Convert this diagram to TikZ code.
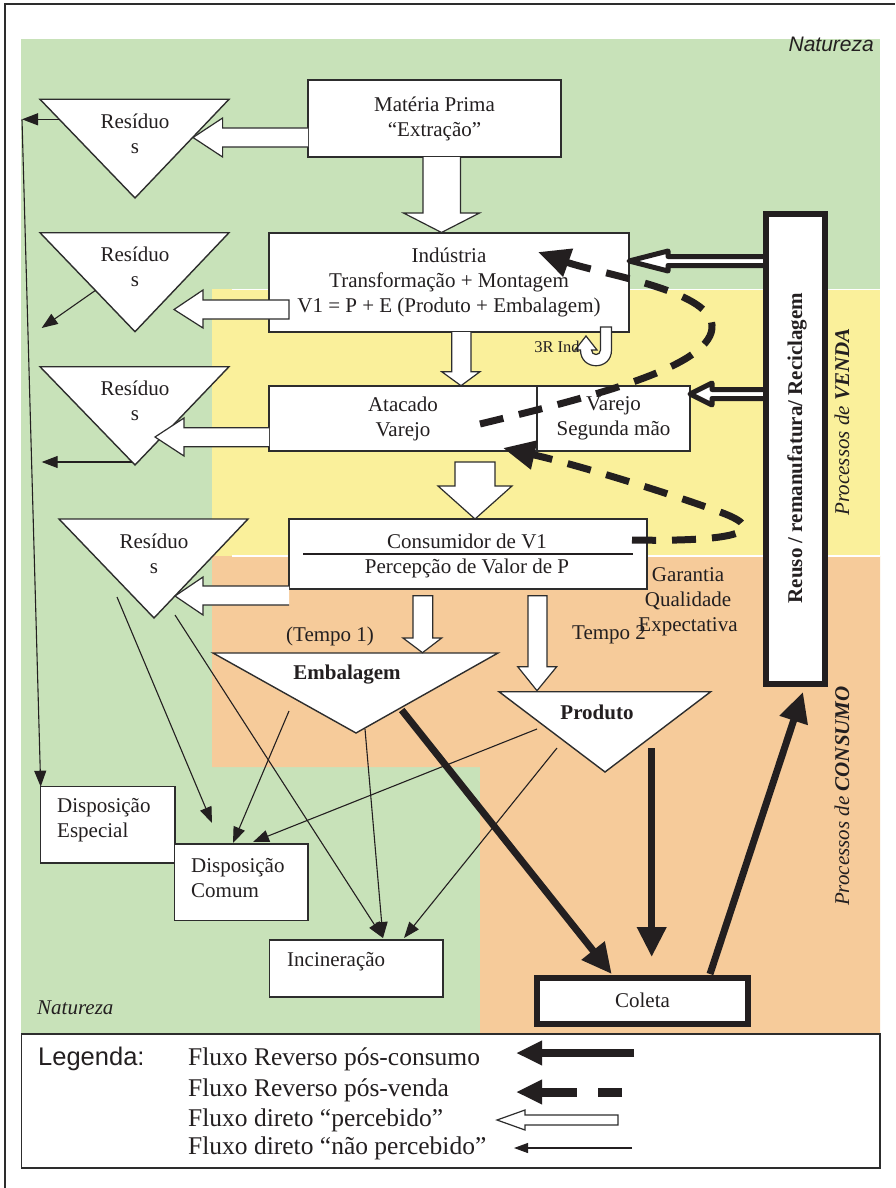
\documentclass[tikz,border=0pt]{standalone}
\usepackage{fontspec}
\setmainfont{Liberation Serif}
\newfontfamily\sansarial{Liberation Sans}
\usetikzlibrary{arrows.meta}
\definecolor{natgreen}{RGB}{200,226,185}
\definecolor{vendyellow}{RGB}{250,240,155}
\definecolor{consorange}{RGB}{246,203,154}
\definecolor{ink}{RGB}{35,31,32}
\definecolor{edgegray}{RGB}{45,45,45}
\newcommand\mainsz{\fontsize{21}{25}\selectfont}
\newcommand\legsz{\fontsize{25.5}{30}\selectfont}
\begin{document}
\begin{tikzpicture}[x=1pt,y=-1pt,
  every node/.style={text=ink},
  T/.style={font=\mainsz, inner sep=0pt, align=center},
  boxn/.style={draw=edgegray, line width=1.4pt, fill=white, inner sep=0pt, outer sep=0pt, font=\mainsz, align=center},
  heavybox/.style={draw=ink, line width=6pt, fill=white, inner sep=0pt, outer sep=0pt, font=\mainsz},
  tri/.style={draw=edgegray, line width=1.4pt, fill=white, line join=miter},
  blockarr/.style={draw=edgegray, line width=1.2pt, fill=white, line join=miter},
  thinarr/.style={draw=ink, line width=1.1pt, -{Triangle[length=16pt,width=12pt]}},
  thickarr/.style={draw=ink, line width=7pt, -{Triangle[length=30pt,width=28pt]}},
  dasharr/.style={draw=ink, line width=7pt, dash pattern=on 24pt off 16pt, -{Triangle[length=32pt,width=28pt]}},
  reusearr/.style={draw=ink, line width=5pt, fill=white, line join=round},
]
\useasboundingbox (0,0) rectangle (895,1188);
% backgrounds
\fill[white] (0,0) rectangle (895,1188);
\fill[natgreen] (21,39) rectangle (880,1033);
\fill[vendyellow] (212,289) rectangle (880,556);
\fill[consorange] (212,556) -- (880,556) -- (880,1033) -- (480,1033) -- (480,767) -- (212,767) -- cycle;
\draw[white, line width=1.2pt] (232,289.5) -- (880,289.5) (232,556) -- (880,556);
\draw[edgegray, line width=2pt] (5,1188) -- (5,4) -- (895,4);

\node[anchor=east, inner sep=0pt, font=\sansarial\itshape\mainsz] (natTop) at (874,44) {Natureza};
\node[anchor=west, inner sep=0pt, font=\itshape\mainsz] (natBot) at (37,1008) {Natureza};

% free ends of thin connectors
\coordinate (t1a) at (59.5,119.3);
\coordinate (corner) at (22,119.3);
\coordinate (t2a) at (96,290);   \coordinate (t2b) at (41.7,328);
\coordinate (t3a) at (131.7,462); \coordinate (t3b) at (41.7,462);
\coordinate (t4a) at (117,597);  \coordinate (t4b) at (212,823);
\coordinate (t4c) at (175,615);
\coordinate (incA) at (383,938); \coordinate (incB) at (404,938);
\coordinate (emA) at (289,711);  \coordinate (comA) at (233,843);
\coordinate (emB) at (365,729);
\coordinate (prA) at (537,729);  \coordinate (comB) at (253,842);
\coordinate (prB) at (557,748);

% boxes
\node[boxn, minimum width=253pt, minimum height=77pt] (mp) at (434.5,118.5) {Matéria Prima\\“Extração”};
\node[boxn, minimum width=360pt, minimum height=99pt] (ind) at (449,282.5) {Indústria\\Transformação + Montagem\\V1 = P + E (Produto + Embalagem)};
\node[boxn, minimum width=268pt, minimum height=65pt] (atac) at (403,418.5) {Atacado\\Varejo};
\node[boxn, minimum width=153pt, minimum height=65pt] (varejo) at (613.5,418.5) {Varejo\\Segunda mão};
\node[boxn, minimum width=358pt, minimum height=70pt] (cons) at (468,554) {};
\node[T] (consT1) at (467,541) {Consumidor de V1};
\node[T] (consT2) at (467,568) {Percepção de Valor de P};
\draw[ink, line width=1.5pt] (303,554) -- (633,554);

% triangles
\draw[tri] (40,99.3) -- (229,99.3) -- (135,198) -- cycle;
\node[T] (res1) at (135,133.5) {Resíduo\\s};
\draw[tri] (40,232.7) -- (229,232.7) -- (135,331.7) -- cycle;
\node[T] (res2) at (135,266.5) {Resíduo\\s};
\draw[tri] (40,366.7) -- (229,366.7) -- (135,465) -- cycle;
\node[T] (res3) at (135,400.5) {Resíduo\\s};
\draw[tri] (59,519) -- (248,519) -- (154,618) -- cycle;
\node[T] (res4) at (154,553.5) {Resíduo\\s};
\draw[tri] (213,653) -- (498,653) -- (356,733) -- cycle;
\node[T, font=\bfseries\mainsz] (emb) at (347,675) {Embalagem};
\draw[tri] (499,691.7) -- (710.7,691.7) -- (605,772) -- cycle;
\node[T, font=\bfseries\mainsz] (prod) at (597,712.7) {Produto};

% lower boxes
\node[boxn, minimum width=134.3pt, minimum height=76.3pt] (disEsp) at (107.85,824.85) {};
\node[T, anchor=west, align=left] (disEspT) at (57,820) {Disposição\\Especial};
\node[boxn, minimum width=133.7pt, minimum height=76.7pt] (disCom) at (241.15,882.35) {};
\node[T, anchor=west, align=left] (disComT) at (191,878) {Disposição\\Comum};
\node[boxn, minimum width=173.7pt, minimum height=57pt] (incin) at (356.15,968.5) {};
\node[T, anchor=west] (incinT) at (287,962) {Incineração};

% thin connectors
\draw[thinarr] (t1a) -- (corner);
\draw[thinarr] (corner) -- (disEsp.north west);
\draw[thinarr] (t2a) -- (t2b);
\draw[thinarr] (t3a) -- (t3b);
\draw[thinarr] (t4a) -- (t4b);
\draw[thinarr] (t4c) -- (incA);
\draw[thinarr] (emA) -- (comA);
\draw[thinarr] (emB) -- (incA);
\draw[thinarr] (prA) -- (comB);
\draw[thinarr] (prB) -- (incB);

% block arrows (direct perceived flow)
\draw[blockarr] (423,157) -- (423,213) -- (403.5,213) -- (441.5,232.5) -- (479.5,213) -- (460.5,213) -- (460.5,157);
\draw[blockarr] (451.7,332) -- (451.7,371.7) -- (441.7,371.7) -- (461,385.7) -- (480,371.7) -- (471,371.7) -- (471,332);
\draw[blockarr] (455,462) -- (455,486) -- (438,486) -- (475,519) -- (512,486) -- (495,486) -- (495,462) -- cycle;
\draw[blockarr] (413,595.7) -- (413,638) -- (403,638) -- (422.5,652.7) -- (441.7,638) -- (432.7,638) -- (432.7,595.7) -- cycle;
\draw[blockarr] (528,595.7) -- (528,666.7) -- (517.7,666.7) -- (537,690.7) -- (556.7,666.7) -- (547,666.7) -- (547,595.7) -- cycle;
\draw[blockarr] (308,128) -- (222.6,128) -- (222.6,118) -- (193,137.5) -- (222.6,157) -- (222.6,147) -- (308,147);
\draw[blockarr] (289,300) -- (203,300) -- (203,290) -- (174,309.5) -- (203,328) -- (203,319) -- (289,319) -- cycle;
\draw[blockarr] (269,427.7) -- (184,427.7) -- (184,418) -- (155,437) -- (184,456) -- (184,446.7) -- (269,446.7);
\draw[blockarr] (289,586) -- (203,586) -- (203,577) -- (175,596) -- (203,615) -- (203,605) -- (289,605);

% 3R Ind curl
\draw[blockarr] (600.5,327) -- (600.5,350) .. controls (600.5,356) and (591.5,356) .. (591.5,350) -- (597,350) -- (586,336) -- (575,350) -- (580.5,350) .. controls (580.5,371) and (611.5,371) .. (611.5,350) -- (611.5,327) -- cycle;
\node[T, font=\fontsize{16.5}{19}\selectfont] (r3) at (557,347) {3R Ind};

% labels
\node[T] (tempo1) at (330,636) {(Tempo 1)};
\node[T] (tempo2) at (609,635) {Tempo 2};
\node[T] (gqe) at (688,602) {Garantia\\Qualidade\\Expectativa};

% reuse arrows
\draw[reusearr] (766,256.5) -- (668,256.5) -- (668,251) -- (629,261) -- (668,271) -- (668,265.5) -- (766,265.5);
\draw[reusearr] (766,389.5) -- (712,389.5) -- (712,383) -- (690,394) -- (712,405) -- (712,398.5) -- (766,398.5);

% reuse box
\node[heavybox, minimum width=58.5pt, minimum height=470pt] (reuso) at (795.25,448.5) {};
\node[T, rotate=90, font=\bfseries\mainsz] (reusoT) at (797,448) {Reuso / remanufatura/ Reciclagem};
\node[T, rotate=90, font=\itshape\mainsz] (vendaT) at (842,422) {Processos de \textbf{VENDA}};
\node[T, rotate=90, font=\itshape\mainsz] (consumoT) at (842,796) {Processos de \textbf{CONSUMO}};

% dashed post-sale reverse flows
\draw[dasharr] (632,540) .. controls (730,542) and (775,532) .. (720,512) .. controls (660,490) and (570,463) .. (503,448);
\draw[dasharr] (480,424) .. controls (600,395) and (715,365) .. (712,325) .. controls (709,290) and (600,274) .. (538,252);

% thick post-consumption flows
\coordinate (embC) at (401.7,710);
\coordinate (colA) at (611.7,974);
\coordinate (prC) at (651.7,748);
\coordinate (colB) at (651.7,957);
\coordinate (colC) at (710,974);
\coordinate (reuB) at (803,692);
\draw[thickarr] (embC) -- (colA);
\draw[thickarr] (prC) -- (colB);
\draw[thickarr] (colC) -- (reuB);
\node[heavybox, minimum width=211pt, minimum height=46.5pt] (coleta) at (642.5,1000.75) {Coleta};

% legend
\node[draw=edgegray, line width=1.5pt, fill=white, minimum width=858.3pt, minimum height=134pt, inner sep=0pt] (legbox) at (450.85,1101) {};
\node[anchor=west, inner sep=0pt, font=\sansarial\legsz] (leg) at (38,1059) {Legenda:};
\node[anchor=west, inner sep=0pt, font=\legsz] (l1) at (188,1059) {Fluxo Reverso pós-consumo};
\node[anchor=west, inner sep=0pt, font=\legsz] (l2) at (188,1090) {Fluxo Reverso pós-venda};
\node[anchor=west, inner sep=0pt, font=\legsz] (l3) at (188,1120) {Fluxo direto “percebido”};
\node[anchor=west, inner sep=0pt, font=\legsz] (l4) at (188,1148) {Fluxo direto “não percebido”};
\coordinate (la1) at (634,1053); \coordinate (lb1) at (516,1053);
\coordinate (la2) at (622,1092); \coordinate (lb2) at (516,1092);
\coordinate (la4) at (632,1148); \coordinate (lb4) at (514,1148);
\draw[ink, line width=8pt, -{Triangle[length=26pt,width=23pt]}] (la1) -- (lb1);
\draw[ink, line width=9pt, dash pattern=on 24pt off 21.5pt on 80pt off 1pt, -{Triangle[length=26pt,width=23pt]}] (la2) -- (lb2);
\draw[blockarr] (618,1115) -- (525,1115) -- (525,1110) -- (497,1120) -- (525,1130) -- (525,1125) -- (618,1125) -- cycle;
\draw[ink, line width=1.1pt, -{Triangle[length=14pt,width=10pt]}] (la4) -- (lb4);
\end{tikzpicture}
\end{document}
